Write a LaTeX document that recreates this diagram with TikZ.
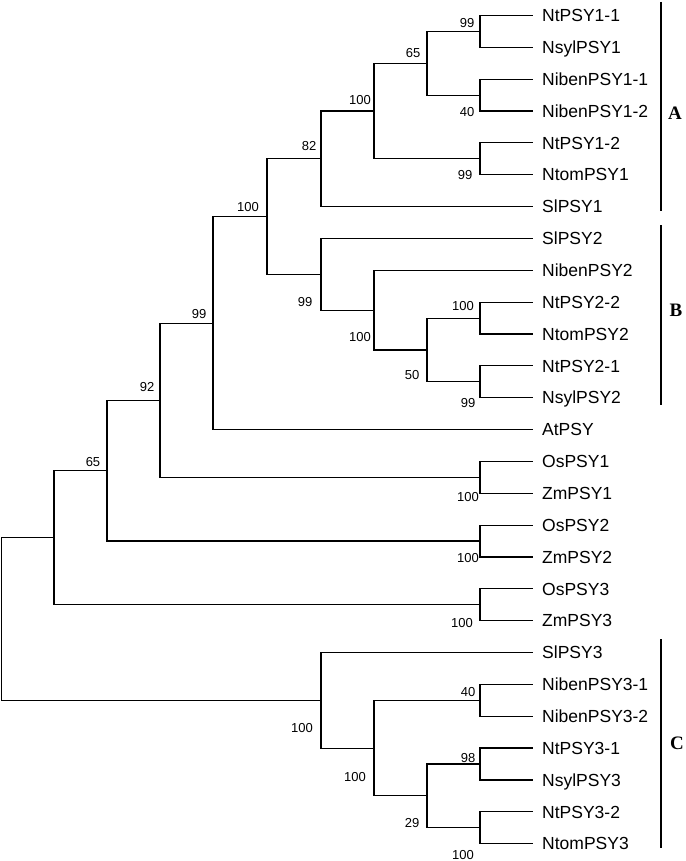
\documentclass[tikz,border=0pt]{standalone}
\usepackage{fontspec}
\setmainfont{Liberation Serif}
\setsansfont{Liberation Sans}

\tikzset{
  branch/.style={line width=1.2pt, line cap=rect},
  taxon/.style={anchor=west, inner xsep=10pt, inner ysep=0pt, text height=12.5pt, text depth=0pt,
    font=\sffamily\fontsize{17.5}{17.5}\selectfont},
  boot/.style={inner sep=0pt, text height=9.3pt, text depth=0pt,
    font=\sffamily\fontsize{13}{13}\selectfont},
  cladebar/.style={line width=1.5pt},
  cladename/.style={inner sep=0pt, font=\rmfamily\bfseries\fontsize{19}{19}\selectfont}
}

\begin{document}
\begin{tikzpicture}[x=1pt, y=-1pt]
  \useasboundingbox (0,0) rectangle (685,861);

  % Taxa
  \foreach \lab [count=\i] in {NtPSY1-1, NsylPSY1, NibenPSY1-1, NibenPSY1-2, NtPSY1-2, NtomPSY1,
      SlPSY1, SlPSY2, NibenPSY2, NtPSY2-2, NtomPSY2, NtPSY2-1, NsylPSY2, AtPSY,
      OsPSY1, ZmPSY1, OsPSY2, ZmPSY2, OsPSY3, ZmPSY3, SlPSY3, NibenPSY3-1, NibenPSY3-2,
      NtPSY3-1, NsylPSY3, NtPSY3-2, NtomPSY3}
    \node[taxon] (t\i) at (532,{15.5+31.85*(\i-1)}) {\lab};

  % Internal nodes, clade A
  \coordinate (a1) at (480,31.45);
  \coordinate (a2) at (480,95.15);
  \coordinate (a3) at (427,63.3);
  \coordinate (a4) at (480,158.85);
  \coordinate (a5) at (374,111.1);
  \coordinate (a6) at (321,158.85);
  % Internal nodes, clade B
  \coordinate (b1) at (480,318.1);
  \coordinate (b2) at (480,381.8);
  \coordinate (b3) at (427,349.95);
  \coordinate (b4) at (374,310.1);
  \coordinate (b5) at (321,274.3);
  % Backbone
  \coordinate (ab) at (267,216.6);
  \coordinate (n99) at (213,323.1);
  \coordinate (o1) at (480,477.35);
  \coordinate (n92) at (160,400.2);
  \coordinate (o2) at (480,541.05);
  \coordinate (n65) at (107,470.6);
  \coordinate (o3) at (480,604.75);
  \coordinate (nR) at (54,537.7);
  % Internal nodes, clade C
  \coordinate (c1) at (480,700.3);
  \coordinate (c2) at (480,764);
  \coordinate (c3) at (480,827.7);
  \coordinate (c4) at (427,795.85);
  \coordinate (c5) at (374,748.1);
  \coordinate (c6) at (321,700.3);
  \coordinate (root) at (1.5,619);

  % Branches
  \draw[branch] (a1) |- (t1.west);  \draw[branch] (a1) |- (t2.west);
  \draw[branch] (a2) |- (t3.west);  \draw[branch] (a2) |- (t4.west);
  \draw[branch] (a3) |- (a1);       \draw[branch] (a3) |- (a2);
  \draw[branch] (a4) |- (t5.west);  \draw[branch] (a4) |- (t6.west);
  \draw[branch] (a5) |- (a3);       \draw[branch] (a5) |- (a4);
  \draw[branch] (a6) |- (a5);       \draw[branch] (a6) |- (t7.west);
  \draw[branch] (b1) |- (t10.west); \draw[branch] (b1) |- (t11.west);
  \draw[branch] (b2) |- (t12.west); \draw[branch] (b2) |- (t13.west);
  \draw[branch] (b3) |- (b1);       \draw[branch] (b3) |- (b2);
  \draw[branch] (b4) |- (t9.west);  \draw[branch] (b4) |- (b3);
  \draw[branch] (b5) |- (t8.west);  \draw[branch] (b5) |- (b4);
  \draw[branch] (ab) |- (a6);       \draw[branch] (ab) |- (b5);
  \draw[branch] (n99) |- (ab);      \draw[branch] (n99) |- (t14.west);
  \draw[branch] (o1) |- (t15.west); \draw[branch] (o1) |- (t16.west);
  \draw[branch] (n92) |- (n99);     \draw[branch] (n92) |- (o1);
  \draw[branch] (o2) |- (t17.west); \draw[branch] (o2) |- (t18.west);
  \draw[branch] (n65) |- (n92);     \draw[branch] (n65) |- (o2);
  \draw[branch] (o3) |- (t19.west); \draw[branch] (o3) |- (t20.west);
  \draw[branch] (nR) |- (n65);      \draw[branch] (nR) |- (o3);
  \draw[branch] (c1) |- (t22.west); \draw[branch] (c1) |- (t23.west);
  \draw[branch] (c2) |- (t24.west); \draw[branch] (c2) |- (t25.west);
  \draw[branch] (c3) |- (t26.west); \draw[branch] (c3) |- (t27.west);
  \draw[branch] (c4) |- (c2);       \draw[branch] (c4) |- (c3);
  \draw[branch] (c5) |- (c1);       \draw[branch] (c5) |- (c4);
  \draw[branch] (c6) |- (t21.west); \draw[branch] (c6) |- (c5);
  \draw[branch] (root) |- (nR);     \draw[branch] (root) |- (c6);

  % Bootstrap values
  \node[boot] (bsa1) at (467,23) {99};
  \node[boot] (bsa3) at (413,53) {65};
  \node[boot] (bsa2) at (467,112) {40};
  \node[boot] (bsa5) at (360,100) {100};
  \node[boot] (bsa4) at (465,175) {99};
  \node[boot] (bsa6) at (309,146) {82};
  \node[boot] (bsb5) at (305,302) {99};
  \node[boot] (bsb1) at (463,306) {100};
  \node[boot] (bsb4) at (360,337) {100};
  \node[boot] (bsb3) at (412,375) {50};
  \node[boot] (bsb2) at (468,403) {99};
  \node[boot] (bsab) at (248,207) {100};
  \node[boot] (bsn99) at (199,314) {99};
  \node[boot] (bsn92) at (147,387) {92};
  \node[boot] (bsn65) at (93,462) {65};
  \node[boot] (bso1) at (468,497) {100};
  \node[boot] (bso2) at (468,558) {100};
  \node[boot] (bso3) at (462,623) {100};
  \node[boot] (bsc1) at (468,692) {40};
  \node[boot] (bsc6) at (302,728) {100};
  \node[boot] (bsc2) at (468,758) {98};
  \node[boot] (bsc5) at (355,777) {100};
  \node[boot] (bsc4) at (412,823) {29};
  \node[boot] (bsc3) at (463,855) {100};

  % Clade bars and names
  \coordinate (Atop) at (661,2);   \coordinate (Abot) at (661,211);
  \coordinate (Btop) at (661,225); \coordinate (Bbot) at (661,405);
  \coordinate (Ctop) at (661,639); \coordinate (Cbot) at (661,848);
  \draw[cladebar] (Atop) -- (Abot);
  \draw[cladebar] (Btop) -- (Bbot);
  \draw[cladebar] (Ctop) -- (Cbot);
  \node[cladename] (cladeA) at (675,113) {A};
  \node[cladename] (cladeB) at (676,310) {B};
  \node[cladename] (cladeC) at (677,743) {C};
\end{tikzpicture}
\end{document}
